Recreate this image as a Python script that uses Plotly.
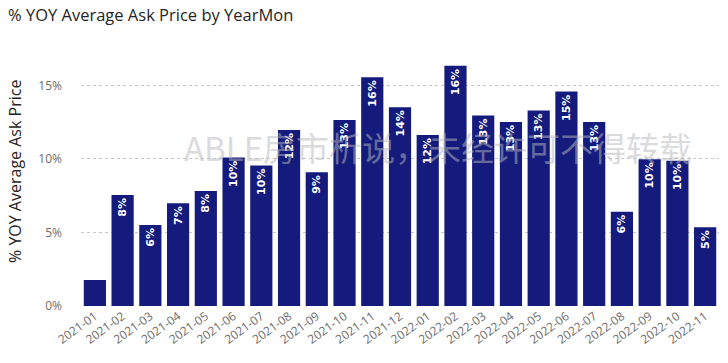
import plotly.graph_objects as go

months = ["2021-01", "2021-02", "2021-03", "2021-04", "2021-05", "2021-06", "2021-07",
          "2021-08", "2021-09", "2021-10", "2021-11", "2021-12", "2022-01", "2022-02",
          "2022-03", "2022-04", "2022-05", "2022-06", "2022-07", "2022-08", "2022-09",
          "2022-10", "2022-11"]
yoy_pct = [1.77, 7.55, 5.51, 6.99, 7.82, 10.09, 9.55, 11.97, 9.10, 12.65, 15.55, 13.52,
           11.63, 16.33, 12.95, 12.52, 13.29, 14.58, 12.52, 6.41, 9.98, 9.88, 5.35]
show_label = [False] + [True] * 22
y_ticks = [0, 5, 10, 15]
y_tick_labels = ["0%", "5%", "10%", "15%"]

labels = [f"{round(v):d}%" if s else "" for v, s in zip(yoy_pct, show_label)]

fig = go.Figure(go.Bar(
    x=months, y=yoy_pct, text=labels,
    marker=dict(color="#141B7C", line=dict(width=0)),
    textposition="inside", insidetextanchor="end", textangle=-90,
    textfont=dict(family="DejaVu Sans", size=11, color="white", weight="bold"),
    cliponaxis=False,
))

fig.update_layout(
    width=728, height=363,
    margin=dict(l=81, r=9, t=56, b=57, autoexpand=False),
    paper_bgcolor="white", plot_bgcolor="white",
    bargap=0.2,
    showlegend=False,
    title=dict(text="% YOY Average Ask Price by YearMon", x=0.011, xanchor="left",
               y=0.958, yanchor="middle",
               font=dict(family="Open Sans", size=16.5, color="#252423")),
    xaxis=dict(type="category", tickangle=-36, showgrid=False, showline=False,
               ticks="", automargin=False,
               tickfont=dict(family="Open Sans", size=12, color="#6E6C6A")),
    yaxis=dict(range=[0, 17], tickvals=y_ticks, ticktext=y_tick_labels,
               showgrid=True, gridcolor="#C8C6C4", griddash="dot", gridwidth=1,
               zeroline=False, showline=False, ticks="", automargin=False,
               ticklabelstandoff=18,
               tickfont=dict(family="Open Sans", size=12, color="#6E6C6A")),
)

fig.add_annotation(
    text="% YOY Average Ask Price", xref="paper", yref="paper",
    x=(15 - 81) / 638, y=(306 - 172) / 250, textangle=-90, showarrow=False,
    xanchor="center", yanchor="middle",
    font=dict(family="Open Sans", size=16, color="#252423"),
)

fig.add_annotation(
    text="ABLE房市析说，未经许可不得转载", xref="paper", yref="paper",
    x=0.56, y=0.635, showarrow=False, opacity=0.5,
    font=dict(family="Noto Sans CJK SC", size=33, color="#B8B8BC"),
)

fig.write_html("out.html", config={"displayModeBar": False},
               post_script="document.body.style.margin='0';")
